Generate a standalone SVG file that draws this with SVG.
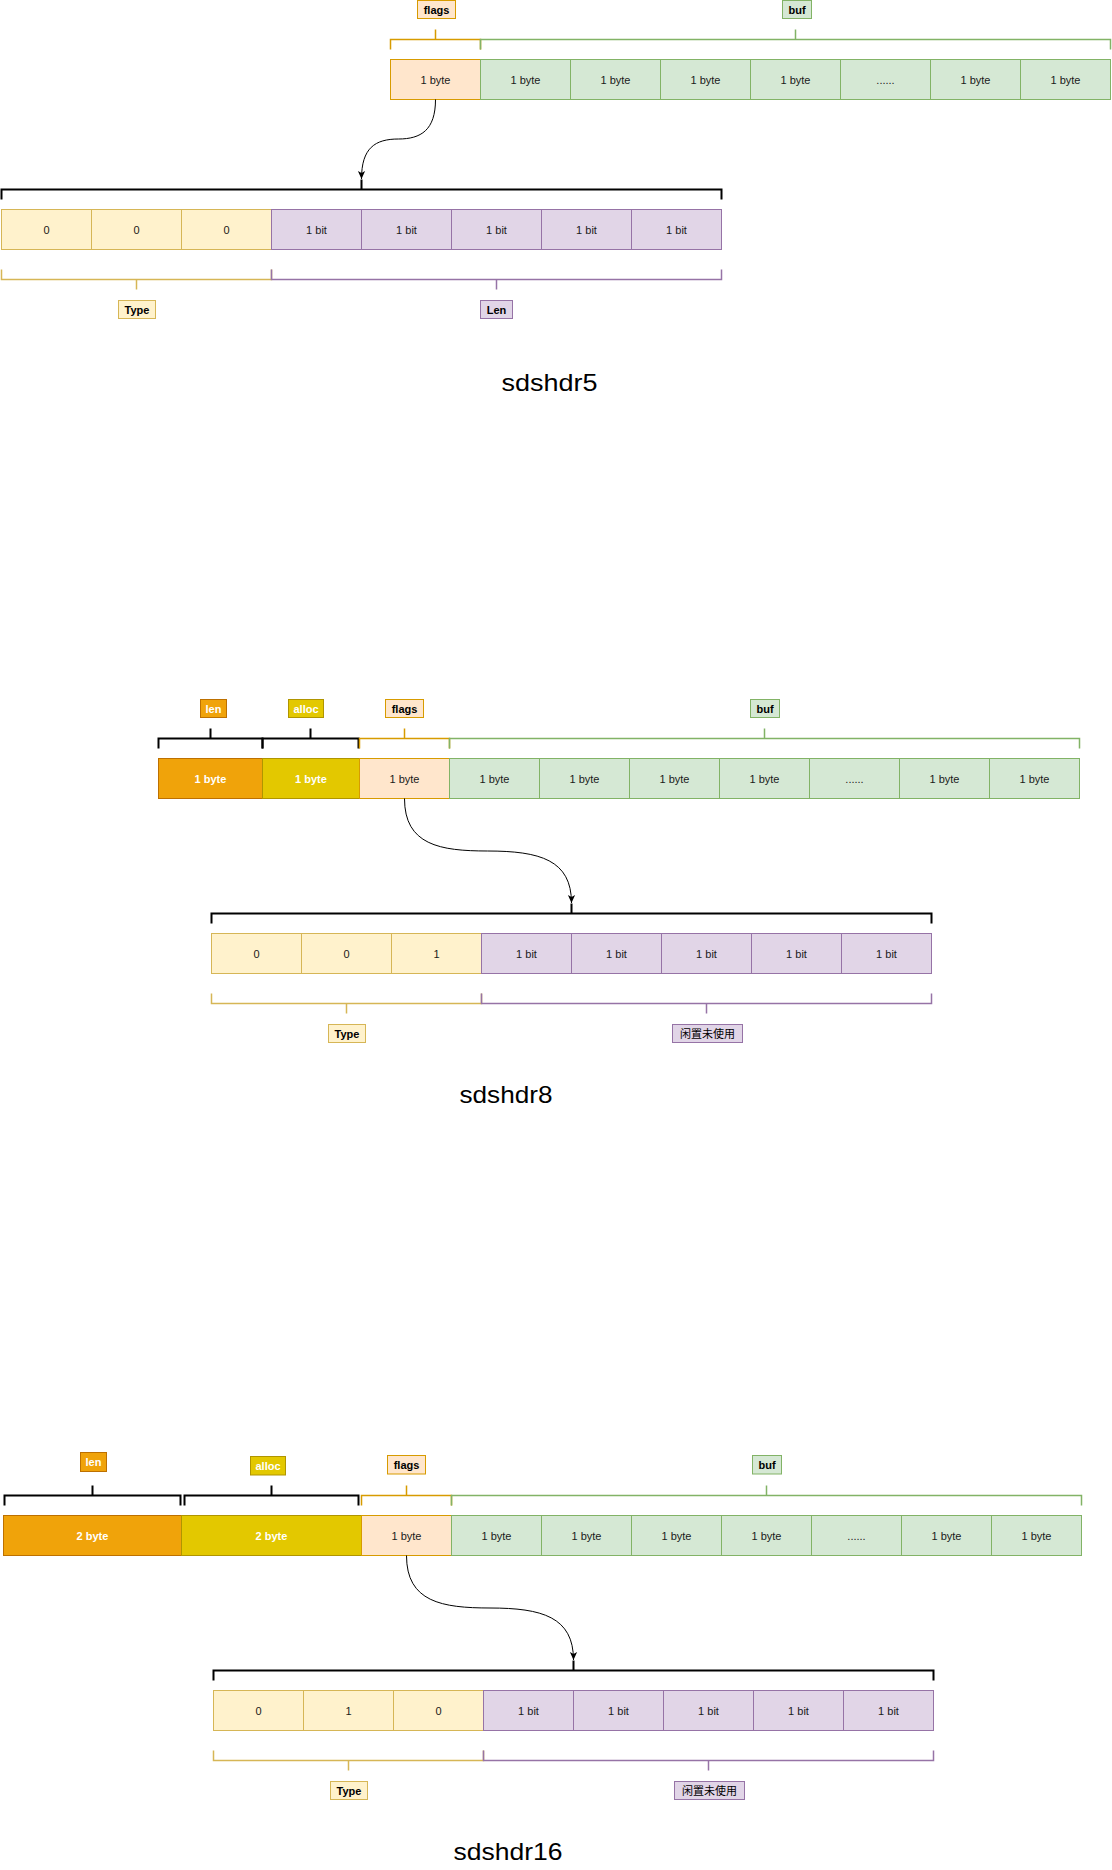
<svg xmlns="http://www.w3.org/2000/svg" width="1112" height="1870" viewBox="0 0 1112 1870">
<style>
text{font-family:"Liberation Sans","Noto Sans CJK SC",sans-serif;text-anchor:middle;dominant-baseline:central}
.c{font-size:11px;fill:#1a1a1a}
.w{font-size:11px;fill:#fff;font-weight:bold}
.lb{font-size:11px;fill:#000;font-weight:bold}
.lc{font-size:11px;fill:#000}
.t{font-size:24px;fill:#000;dominant-baseline:auto}
.fl{fill:#ffe6cc;stroke:#d79b00}
.bf{fill:#d5e8d4;stroke:#82b366}
.ty{fill:#fff2cc;stroke:#d6b656}
.pu{fill:#e1d5e7;stroke:#9673a6}
.ln{fill:#f0a30a;stroke:#bd7000}
.al{fill:#e3c800;stroke:#b09500}
.br{fill:none;stroke-width:2}
.bk{stroke:#000}
.bo{stroke:#d79b00;stroke-width:1.5}
.bg{stroke:#82b366;stroke-width:1.5}
.by{stroke:#d6b656;stroke-width:1.5}
.bp{stroke:#9673a6;stroke-width:1.5}
.edge{fill:none;stroke:#000;stroke-width:1}
</style>
<defs>
<marker id="arr" viewBox="-9 -5 10 10" refX="0" refY="0" markerWidth="10" markerHeight="10" orient="auto" markerUnits="userSpaceOnUse">
<path d="M0,0 L-8,-3.6 L-6,0 L-8,3.6 z" fill="#000"/>
</marker>
</defs>

<!-- ============ sdshdr5 ============ -->
<g id="s5-labels">
<g id="s5-flags-label"><rect class="fl" x="417.5" y="0.5" width="38" height="18"/><text class="lb" x="436.5" y="9.5">flags</text></g>
<g id="s5-buf-label"><rect class="bf" x="782.5" y="0.5" width="29" height="18"/><text class="lb" x="797" y="9.5">buf</text></g>
</g>
<g id="s5-brackets">
<path class="br bo" d="M390.5,49.5 V39.5 H480.5 V49.5 M435.5,39.5 V29.5"/>
<path class="br bg" d="M480.5,49.5 V39.5 H1110.5 V49.5 M795.5,39.5 V29.5"/>
<path class="br bk" d="M1.5,199.5 V189.5 H721.5 V199.5 M361.5,189.5 V179.5"/>
<path class="br by" d="M1.5,269.5 V279.5 H271.5 V269.5 M136.5,279.5 V289.5"/>
<path class="br bp" d="M271.5,269.5 V279.5 H721.5 V269.5 M496.5,279.5 V289.5"/>
</g>
<g id="s5-bytes">
<g id="s5-flags"><rect class="fl" x="390.5" y="59.5" width="90" height="40"/><text class="c" x="435.5" y="79.5">1 byte</text></g>
<g id="s5-buf1"><rect class="bf" x="480.5" y="59.5" width="90" height="40"/><text class="c" x="525.5" y="79.5">1 byte</text></g>
<g id="s5-buf2"><rect class="bf" x="570.5" y="59.5" width="90" height="40"/><text class="c" x="615.5" y="79.5">1 byte</text></g>
<g id="s5-buf3"><rect class="bf" x="660.5" y="59.5" width="90" height="40"/><text class="c" x="705.5" y="79.5">1 byte</text></g>
<g id="s5-buf4"><rect class="bf" x="750.5" y="59.5" width="90" height="40"/><text class="c" x="795.5" y="79.5">1 byte</text></g>
<g id="s5-buf5"><rect class="bf" x="840.5" y="59.5" width="90" height="40"/><text class="c" x="885.5" y="79.5">......</text></g>
<g id="s5-buf6"><rect class="bf" x="930.5" y="59.5" width="90" height="40"/><text class="c" x="975.5" y="79.5">1 byte</text></g>
<g id="s5-buf7"><rect class="bf" x="1020.5" y="59.5" width="90" height="40"/><text class="c" x="1065.5" y="79.5">1 byte</text></g>
</g>
<g id="s5-bits">
<g id="s5-bit1"><rect class="ty" x="1.5" y="209.5" width="90" height="40"/><text class="c" x="46.5" y="229.5">0</text></g>
<g id="s5-bit2"><rect class="ty" x="91.5" y="209.5" width="90" height="40"/><text class="c" x="136.5" y="229.5">0</text></g>
<g id="s5-bit3"><rect class="ty" x="181.5" y="209.5" width="90" height="40"/><text class="c" x="226.5" y="229.5">0</text></g>
<g id="s5-bit4"><rect class="pu" x="271.5" y="209.5" width="90" height="40"/><text class="c" x="316.5" y="229.5">1 bit</text></g>
<g id="s5-bit5"><rect class="pu" x="361.5" y="209.5" width="90" height="40"/><text class="c" x="406.5" y="229.5">1 bit</text></g>
<g id="s5-bit6"><rect class="pu" x="451.5" y="209.5" width="90" height="40"/><text class="c" x="496.5" y="229.5">1 bit</text></g>
<g id="s5-bit7"><rect class="pu" x="541.5" y="209.5" width="90" height="40"/><text class="c" x="586.5" y="229.5">1 bit</text></g>
<g id="s5-bit8"><rect class="pu" x="631.5" y="209.5" width="90" height="40"/><text class="c" x="676.5" y="229.5">1 bit</text></g>
</g>
<g id="s5-bottom-labels">
<g id="s5-type-label"><rect class="ty" x="118.5" y="300.5" width="37" height="18"/><text class="lb" x="137" y="309.5">Type</text></g>
<g id="s5-len-label"><rect class="pu" x="480.5" y="300.5" width="32" height="18"/><text class="lb" x="496.5" y="309.5">Len</text></g>
</g>
<g id="s5-title"><text class="t" x="549.5" y="391" textLength="96" lengthAdjust="spacingAndGlyphs">sdshdr5</text></g>

<!-- ============ sdshdr8 ============ -->
<g id="s8-labels">
<g id="s8-len-label"><rect class="ln" x="200.5" y="699.5" width="26" height="18"/><text class="w" x="213.5" y="708.5">len</text></g>
<g id="s8-alloc-label"><rect class="al" x="288.5" y="699.5" width="35" height="18"/><text class="w" x="306" y="708.5">alloc</text></g>
<g id="s8-flags-label"><rect class="fl" x="385.5" y="699.5" width="38" height="18"/><text class="lb" x="404.5" y="708.5">flags</text></g>
<g id="s8-buf-label"><rect class="bf" x="750.5" y="699.5" width="29" height="18"/><text class="lb" x="765" y="708.5">buf</text></g>
</g>
<g id="s8-brackets">
<path class="br bk" d="M158.5,748.5 V738.5 H262.5 V748.5 M210.5,738.5 V728.5"/>
<path class="br bk" d="M262.5,748.5 V738.5 H358.5 V748.5 M310.5,738.5 V728.5"/>
<path class="br bo" d="M359.5,748.5 V738.5 H449.5 V748.5 M404.5,738.5 V728.5"/>
<path class="br bg" d="M449.5,748.5 V738.5 H1079.5 V748.5 M764.5,738.5 V728.5"/>
<path class="br bk" d="M211.5,923.5 V913.5 H931.5 V923.5 M571.5,913.5 V903.5"/>
<path class="br by" d="M211.5,993.5 V1003.5 H481.5 V993.5 M346.5,1003.5 V1013.5"/>
<path class="br bp" d="M481.5,993.5 V1003.5 H931.5 V993.5 M706.5,1003.5 V1013.5"/>
</g>
<g id="s8-bytes">
<g id="s8-len"><rect class="ln" x="158.5" y="758.5" width="104" height="40"/><text class="w" x="210.5" y="778.5">1 byte</text></g>
<g id="s8-alloc"><rect class="al" x="262.5" y="758.5" width="97" height="40"/><text class="w" x="311" y="778.5">1 byte</text></g>
<g id="s8-flags"><rect class="fl" x="359.5" y="758.5" width="90" height="40"/><text class="c" x="404.5" y="778.5">1 byte</text></g>
<g id="s8-buf1"><rect class="bf" x="449.5" y="758.5" width="90" height="40"/><text class="c" x="494.5" y="778.5">1 byte</text></g>
<g id="s8-buf2"><rect class="bf" x="539.5" y="758.5" width="90" height="40"/><text class="c" x="584.5" y="778.5">1 byte</text></g>
<g id="s8-buf3"><rect class="bf" x="629.5" y="758.5" width="90" height="40"/><text class="c" x="674.5" y="778.5">1 byte</text></g>
<g id="s8-buf4"><rect class="bf" x="719.5" y="758.5" width="90" height="40"/><text class="c" x="764.5" y="778.5">1 byte</text></g>
<g id="s8-buf5"><rect class="bf" x="809.5" y="758.5" width="90" height="40"/><text class="c" x="854.5" y="778.5">......</text></g>
<g id="s8-buf6"><rect class="bf" x="899.5" y="758.5" width="90" height="40"/><text class="c" x="944.5" y="778.5">1 byte</text></g>
<g id="s8-buf7"><rect class="bf" x="989.5" y="758.5" width="90" height="40"/><text class="c" x="1034.5" y="778.5">1 byte</text></g>
</g>
<g id="s8-bits">
<g id="s8-bit1"><rect class="ty" x="211.5" y="933.5" width="90" height="40"/><text class="c" x="256.5" y="953.5">0</text></g>
<g id="s8-bit2"><rect class="ty" x="301.5" y="933.5" width="90" height="40"/><text class="c" x="346.5" y="953.5">0</text></g>
<g id="s8-bit3"><rect class="ty" x="391.5" y="933.5" width="90" height="40"/><text class="c" x="436.5" y="953.5">1</text></g>
<g id="s8-bit4"><rect class="pu" x="481.5" y="933.5" width="90" height="40"/><text class="c" x="526.5" y="953.5">1 bit</text></g>
<g id="s8-bit5"><rect class="pu" x="571.5" y="933.5" width="90" height="40"/><text class="c" x="616.5" y="953.5">1 bit</text></g>
<g id="s8-bit6"><rect class="pu" x="661.5" y="933.5" width="90" height="40"/><text class="c" x="706.5" y="953.5">1 bit</text></g>
<g id="s8-bit7"><rect class="pu" x="751.5" y="933.5" width="90" height="40"/><text class="c" x="796.5" y="953.5">1 bit</text></g>
<g id="s8-bit8"><rect class="pu" x="841.5" y="933.5" width="90" height="40"/><text class="c" x="886.5" y="953.5">1 bit</text></g>
</g>
<g id="s8-bottom-labels">
<g id="s8-type-label"><rect class="ty" x="328.5" y="1024.5" width="37" height="18"/><text class="lb" x="347" y="1033.5">Type</text></g>
<g id="s8-unused-label"><rect class="pu" x="672.5" y="1024.5" width="70" height="18"/><text class="lc" x="707.5" y="1033.5">闲置未使用</text></g>
</g>
<g id="s8-title"><text class="t" x="506" y="1102.5" textLength="93" lengthAdjust="spacingAndGlyphs">sdshdr8</text></g>

<!-- ============ sdshdr16 ============ -->
<g id="s16-labels">
<g id="s16-len-label"><rect class="ln" x="80.5" y="1452.5" width="26" height="19"/><text class="w" x="93.5" y="1462">len</text></g>
<g id="s16-alloc-label"><rect class="al" x="250.5" y="1456.5" width="35" height="18.5"/><text class="w" x="268" y="1465.7">alloc</text></g>
<g id="s16-flags-label"><rect class="fl" x="387.5" y="1455.5" width="38" height="18.5"/><text class="lb" x="406.5" y="1464.7">flags</text></g>
<g id="s16-buf-label"><rect class="bf" x="752.5" y="1455.5" width="29" height="18.5"/><text class="lb" x="767" y="1464.7">buf</text></g>
</g>
<g id="s16-brackets">
<path class="br bk" d="M4.5,1505.5 V1495.5 H180.5 V1505.5 M92.5,1495.5 V1485.5"/>
<path class="br bk" d="M184.5,1505.5 V1495.5 H358.5 V1505.5 M271.5,1495.5 V1485.5"/>
<path class="br bo" d="M361.5,1505.5 V1495.5 H451.5 V1505.5 M406.5,1495.5 V1485.5"/>
<path class="br bg" d="M451.5,1505.5 V1495.5 H1081.5 V1505.5 M766.5,1495.5 V1485.5"/>
<path class="br bk" d="M213.5,1680.5 V1670.5 H933.5 V1680.5 M573.5,1670.5 V1660.5"/>
<path class="br by" d="M213.5,1750.5 V1760.5 H483.5 V1750.5 M348.5,1760.5 V1770.5"/>
<path class="br bp" d="M483.5,1750.5 V1760.5 H933.5 V1750.5 M708.5,1760.5 V1770.5"/>
</g>
<g id="s16-bytes">
<g id="s16-len"><rect class="ln" x="3.5" y="1515.5" width="178" height="40"/><text class="w" x="92.5" y="1535.5">2 byte</text></g>
<g id="s16-alloc"><rect class="al" x="181.5" y="1515.5" width="180" height="40"/><text class="w" x="271.5" y="1535.5">2 byte</text></g>
<g id="s16-flags"><rect class="fl" x="361.5" y="1515.5" width="90" height="40"/><text class="c" x="406.5" y="1535.5">1 byte</text></g>
<g id="s16-buf1"><rect class="bf" x="451.5" y="1515.5" width="90" height="40"/><text class="c" x="496.5" y="1535.5">1 byte</text></g>
<g id="s16-buf2"><rect class="bf" x="541.5" y="1515.5" width="90" height="40"/><text class="c" x="586.5" y="1535.5">1 byte</text></g>
<g id="s16-buf3"><rect class="bf" x="631.5" y="1515.5" width="90" height="40"/><text class="c" x="676.5" y="1535.5">1 byte</text></g>
<g id="s16-buf4"><rect class="bf" x="721.5" y="1515.5" width="90" height="40"/><text class="c" x="766.5" y="1535.5">1 byte</text></g>
<g id="s16-buf5"><rect class="bf" x="811.5" y="1515.5" width="90" height="40"/><text class="c" x="856.5" y="1535.5">......</text></g>
<g id="s16-buf6"><rect class="bf" x="901.5" y="1515.5" width="90" height="40"/><text class="c" x="946.5" y="1535.5">1 byte</text></g>
<g id="s16-buf7"><rect class="bf" x="991.5" y="1515.5" width="90" height="40"/><text class="c" x="1036.5" y="1535.5">1 byte</text></g>
</g>
<g id="s16-bits">
<g id="s16-bit1"><rect class="ty" x="213.5" y="1690.5" width="90" height="40"/><text class="c" x="258.5" y="1710.5">0</text></g>
<g id="s16-bit2"><rect class="ty" x="303.5" y="1690.5" width="90" height="40"/><text class="c" x="348.5" y="1710.5">1</text></g>
<g id="s16-bit3"><rect class="ty" x="393.5" y="1690.5" width="90" height="40"/><text class="c" x="438.5" y="1710.5">0</text></g>
<g id="s16-bit4"><rect class="pu" x="483.5" y="1690.5" width="90" height="40"/><text class="c" x="528.5" y="1710.5">1 bit</text></g>
<g id="s16-bit5"><rect class="pu" x="573.5" y="1690.5" width="90" height="40"/><text class="c" x="618.5" y="1710.5">1 bit</text></g>
<g id="s16-bit6"><rect class="pu" x="663.5" y="1690.5" width="90" height="40"/><text class="c" x="708.5" y="1710.5">1 bit</text></g>
<g id="s16-bit7"><rect class="pu" x="753.5" y="1690.5" width="90" height="40"/><text class="c" x="798.5" y="1710.5">1 bit</text></g>
<g id="s16-bit8"><rect class="pu" x="843.5" y="1690.5" width="90" height="40"/><text class="c" x="888.5" y="1710.5">1 bit</text></g>
</g>
<g id="s16-bottom-labels">
<g id="s16-type-label"><rect class="ty" x="330.5" y="1781.5" width="37" height="18"/><text class="lb" x="349" y="1790.5">Type</text></g>
<g id="s16-unused-label"><rect class="pu" x="674.5" y="1781.5" width="70" height="18"/><text class="lc" x="709.5" y="1790.5">闲置未使用</text></g>
</g>
<g id="s16-title"><text class="t" x="508" y="1860" textLength="109" lengthAdjust="spacingAndGlyphs">sdshdr16</text></g>

<!-- ============ connectors ============ -->
<g id="connectors">
<path class="edge" d="M435.5,99.5 C435.5,130 421,139 398.5,139 C375,139 361.5,148 361.5,179" marker-end="url(#arr)"/>
<path class="edge" d="M404.5,798.5 C404.5,845 440,851 487.5,851 C540,851 571.5,860 571.5,903" marker-end="url(#arr)"/>
<path class="edge" d="M406.5,1555.5 C406.5,1602 442,1608 490,1608 C542,1608 573.5,1617 573.5,1660" marker-end="url(#arr)"/>
</g>
</svg>
